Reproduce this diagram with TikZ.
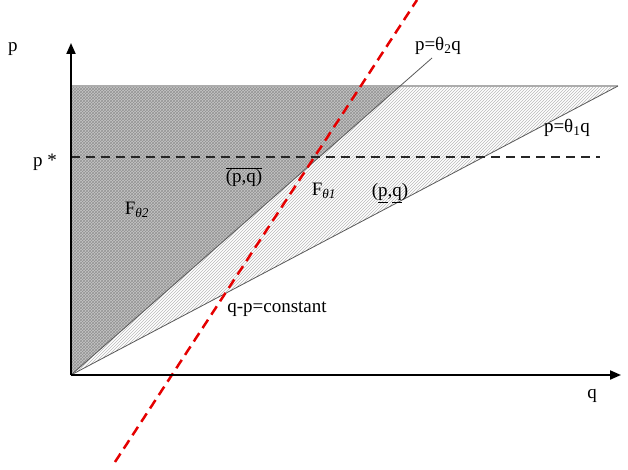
\documentclass[tikz,border=0pt]{standalone}
\usepackage{fontspec}
\setmainfont{Liberation Serif}
\usetikzlibrary{patterns,arrows.meta}
\begin{document}
\begin{tikzpicture}[x=1pt,y=-1pt,
  lbl/.style={font=\fontsize{19}{21}\selectfont, inner sep=1pt},
  axis/.style={line width=2pt, -{Triangle[length=11pt,width=9pt]}},
  ray/.style={draw=black!65, line width=0.8pt},
  pstar/.style={draw=black!85, line width=2.6pt, dash pattern=on 9pt off 6pt},
  redline/.style={draw=red!90!black, line width=2.5pt, dash pattern=on 10pt off 6pt}]
\useasboundingbox (0,0) rectangle (628,470);
\coordinate (O) at (71,375);
\coordinate (TL) at (71,86);
\coordinate (T2) at (400,86);
\coordinate (TR) at (618,86);
\coordinate (E2) at (432,58);
\coordinate (YT) at (71,43);
\coordinate (XT) at (621,375);
\coordinate (PS1) at (71,157);
\coordinate (PS2) at (600,157);
\coordinate (R1) at (115,462);
\coordinate (R2) at (417,0);
% shaded regions
\fill[gray!45] (O) -- (TL) -- (T2) -- cycle;
\fill[pattern=crosshatch, pattern color=gray!85] (O) -- (TL) -- (T2) -- cycle;
\fill[pattern=north east lines, pattern color=gray!55] (O) -- (T2) -- (TR) -- cycle;
% lines
\draw[draw=gray!65, line width=1.6pt] (TL) -- (TR);
\draw[ray] (O) -- (TR);
\draw[ray] (O) -- (E2);
\draw[pstar] (PS1) -- (PS2);
\draw[redline] (R1) -- (R2);
\draw[axis] (O) -- (YT);
\draw[axis] (O) -- (XT);
% labels
\node[lbl] (lp) at (13,49) {p};
\node[lbl] (lps) at (45,162) {p *};
\node[lbl] (lq) at (592,396) {q};
\node[lbl] (lt2) at (438,46) {p=θ\textsubscript{2}q};
\node[lbl] (lt1) at (567,128) {p=θ\textsubscript{1}q};
\node[lbl] (lf2) at (137,210) {F\textsubscript{\itshape θ2}};
\node[lbl] (lf1) at (324,191) {F\textsubscript{\itshape θ1}};
\node[lbl] (lov) at (244,177) {$\overline{\mbox{(p,q)}}$};
\node[lbl] (lun) at (390,193) {(\underline{p},\underline{q})};
\node[lbl] (lc) at (277,309) {q-p=constant};
\end{tikzpicture}
\end{document}
